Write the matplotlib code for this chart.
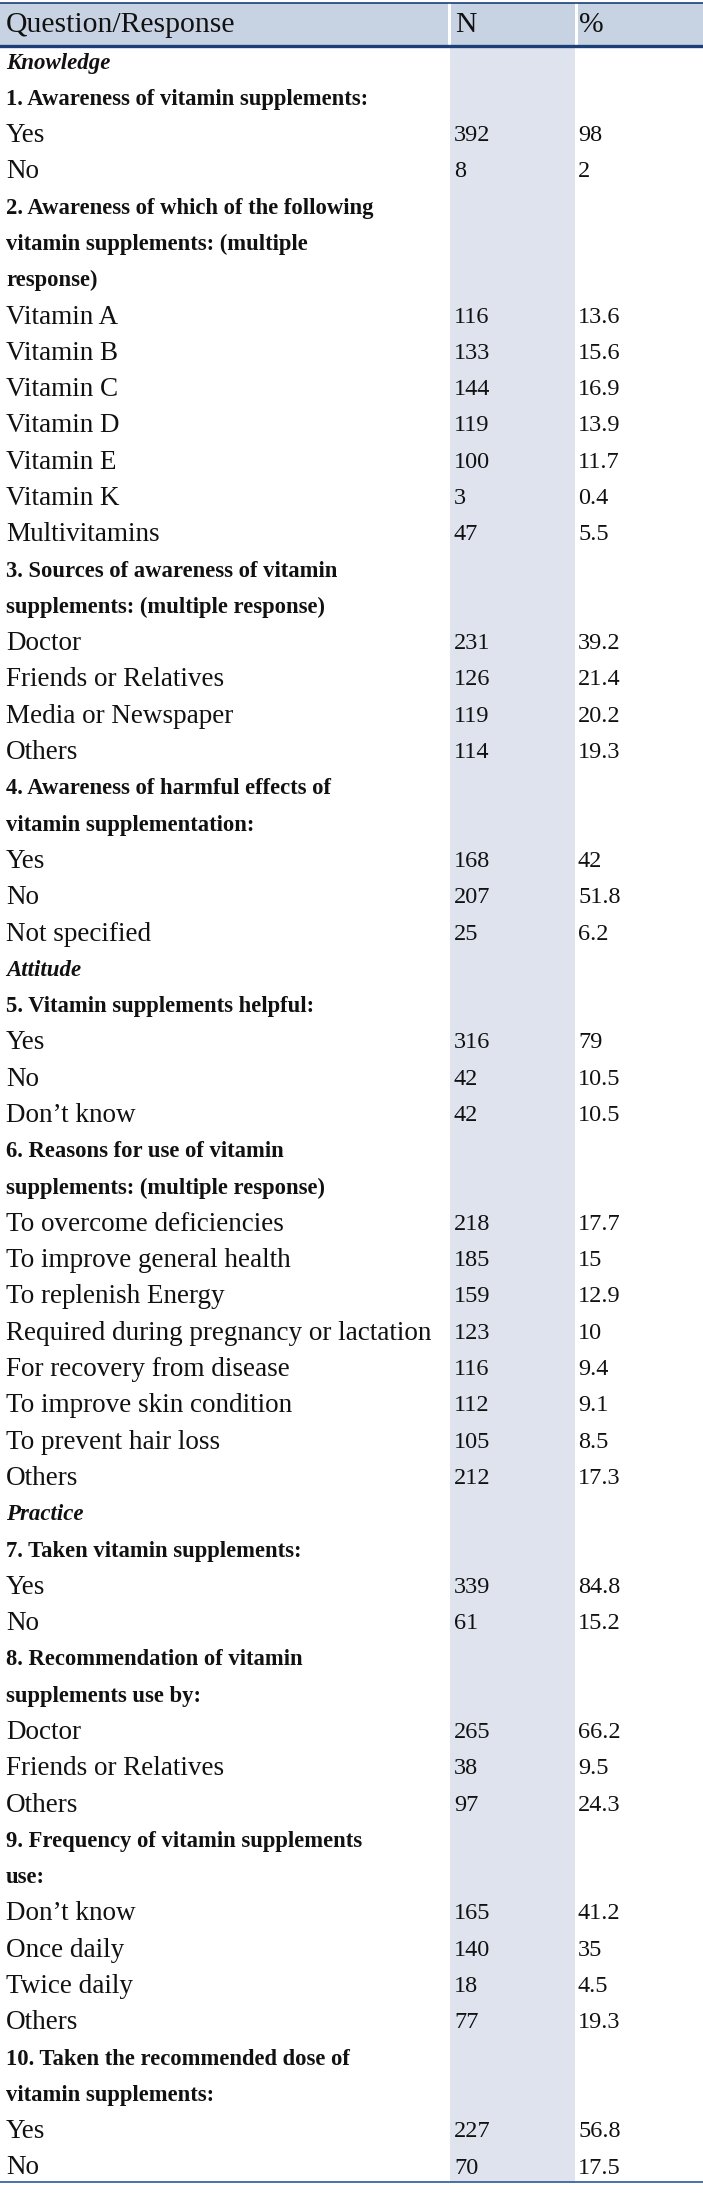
"""
Vitamin supplement KAP table rendered as a matplotlib figure.
Saves out.png (703x2200).
"""

import matplotlib
matplotlib.use("Agg")
import matplotlib.pyplot as plt
from matplotlib.patches import Rectangle

# ── data ────────────────────────────────────────────────────────────────────
HEADERS = ["Question/Response", "N", "%"]

# kind: s = section (italic), q = question line (bold), r = response row
LABELS = [
    "Knowledge",
    "1. Awareness of vitamin supplements:",
    "Yes", "No",
    "2. Awareness of which of the following",
    "vitamin supplements: (multiple",
    "response)",
    "Vitamin A", "Vitamin B", "Vitamin C", "Vitamin D", "Vitamin E",
    "Vitamin K", "Multivitamins",
    "3. Sources of awareness of vitamin",
    "supplements: (multiple response)",
    "Doctor", "Friends or Relatives", "Media or Newspaper", "Others",
    "4. Awareness of harmful effects of",
    "vitamin supplementation:",
    "Yes", "No", "Not specified",
    "Attitude",
    "5. Vitamin supplements helpful:",
    "Yes", "No", "Don\u2019t know",
    "6. Reasons for use of vitamin",
    "supplements: (multiple response)",
    "To overcome deficiencies", "To improve general health",
    "To replenish Energy", "Required during pregnancy or lactation",
    "For recovery from disease", "To improve skin condition",
    "To prevent hair loss", "Others",
    "Practice",
    "7. Taken vitamin supplements:",
    "Yes", "No",
    "8. Recommendation of vitamin",
    "supplements use by:",
    "Doctor", "Friends or Relatives", "Others",
    "9. Frequency of vitamin supplements",
    "use:",
    "Don\u2019t know", "Once daily", "Twice daily", "Others",
    "10. Taken the recommended dose of",
    "vitamin supplements:",
    "Yes", "No",
]

KINDS = (
    "sq" + "rr" + "qqq" + "r" * 7 + "qq" + "r" * 4 + "qq" + "r" * 3
    + "sq" + "r" * 3 + "qq" + "r" * 8
    + "sq" + "rr" + "qq" + "r" * 3 + "qq" + "r" * 4 + "qq" + "rr"
)

N_VALUES = [
    "392", "8",
    "116", "133", "144", "119", "100", "3", "47",
    "231", "126", "119", "114",
    "168", "207", "25",
    "316", "42", "42",
    "218", "185", "159", "123", "116", "112", "105", "212",
    "339", "61",
    "265", "38", "97",
    "165", "140", "18", "77",
    "227", "70",
]

PCT_VALUES = [
    "98", "2",
    "13.6", "15.6", "16.9", "13.9", "11.7", "0.4", "5.5",
    "39.2", "21.4", "20.2", "19.3",
    "42", "51.8", "6.2",
    "79", "10.5", "10.5",
    "17.7", "15", "12.9", "10", "9.4", "9.1", "8.5", "17.3",
    "84.8", "15.2",
    "66.2", "9.5", "24.3",
    "41.2", "35", "4.5", "19.3",
    "56.8", "17.5",
]

# ── layout ──────────────────────────────────────────────────────────────────
W, H = 703, 2200
COL_X = [0, 449, 576, 703]
HEAD_TOP, HEAD_BOT = 3, 46
FIRST_Y, LAST_Y = 63, 2168
TABLE_BOT = 2182
FONT = "Liberation Serif"
FS_HEAD = 21.3
FS_REG = 19.5
FS_BOLD = 16.3
FS_SEC = 16.5
FS_NUM = 17.5
TXT = "#111111"
HEAD_FILL = "#c7d2e3"
COL_FILL = "#dee3ed"
LINE = "#1c3f78"


def main():
    fig = plt.figure(figsize=(W / 100, H / 100), dpi=100)
    ax = fig.add_axes([0, 0, 1, 1])
    ax.set_xlim(0, W)
    ax.set_ylim(H, 0)
    ax.axis("off")

    # header background, split by thin white gaps
    for i in range(3):
        x0 = COL_X[i] + (1.5 if i else 0)
        x1 = COL_X[i + 1] - (1.5 if i < 2 else 0)
        ax.add_patch(Rectangle((x0, HEAD_TOP), x1 - x0, HEAD_BOT - HEAD_TOP,
                               facecolor=HEAD_FILL, edgecolor="none"))
    # shaded N column
    ax.add_patch(Rectangle((COL_X[1] + 1, HEAD_BOT), COL_X[2] - COL_X[1] - 2,
                           TABLE_BOT - HEAD_BOT, facecolor=COL_FILL, edgecolor="none"))

    ax.plot([0, W], [HEAD_TOP, HEAD_TOP], color=LINE, lw=1.2)
    ax.plot([0, W], [HEAD_BOT, HEAD_BOT], color=LINE, lw=2.4)
    ax.plot([0, W], [TABLE_BOT, TABLE_BOT], color="#2a5a9a", lw=1.2)

    head_y = (HEAD_TOP + HEAD_BOT) / 2 + 1
    for i, h in enumerate(HEADERS):
        ax.text(COL_X[i] + (6 if i < 2 else 3), head_y, h, fontsize=FS_HEAD,
                family=FONT, va="center", ha="left", color=TXT)

    step = (LAST_Y - FIRST_Y) / (len(LABELS) - 1)
    vi = 0
    for i, (label, kind) in enumerate(zip(LABELS, KINDS)):
        y = FIRST_Y + i * step
        if kind == "s":
            ax.text(6, y, label, fontsize=FS_SEC, family=FONT, style="italic",
                    weight="bold", va="center", ha="left", color=TXT)
        elif kind == "q":
            ax.text(6, y, label, fontsize=FS_BOLD, family=FONT, weight="bold",
                    va="center", ha="left", color=TXT)
        else:
            ax.text(6, y, label, fontsize=FS_REG, family=FONT,
                    va="center", ha="left", color=TXT)
            ax.text(COL_X[1] + 5, y, N_VALUES[vi], fontsize=FS_NUM, family=FONT,
                    va="center", ha="left", color=TXT)
            ax.text(COL_X[2] + 2, y, PCT_VALUES[vi], fontsize=FS_NUM, family=FONT,
                    va="center", ha="left", color=TXT)
            vi += 1

    fig.savefig("out.png", dpi=100)
    plt.close(fig)


if __name__ == "__main__":
    main()
